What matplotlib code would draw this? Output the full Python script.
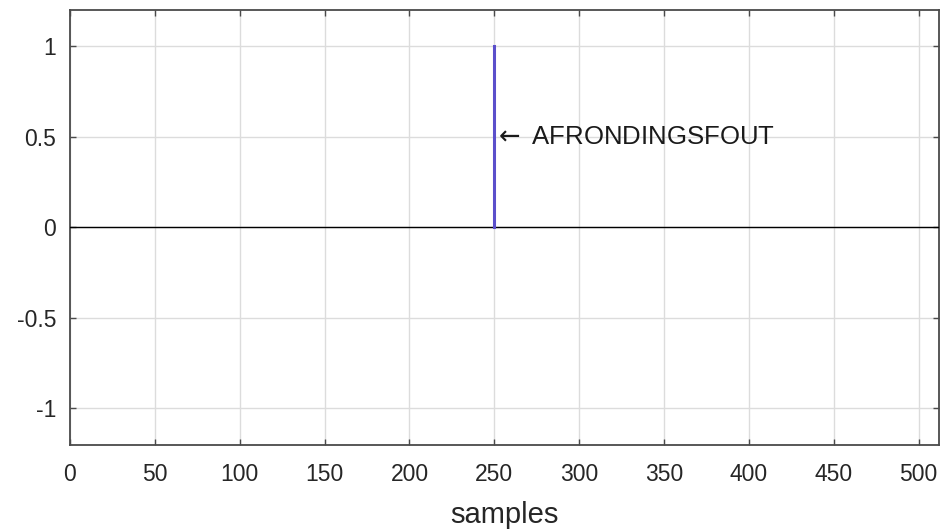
import numpy as np
import matplotlib.pyplot as plt

plt.rcParams['font.family'] = ['Liberation Sans', 'DejaVu Sans']
plt.rcParams['mathtext.fontset'] = 'dejavusans'

# Data
n_samples = 512
spike_pos = 250
spike_val = 1.0
baseline = [0.0, 0.0]
label_text = r"$\leftarrow$ AFRONDINGSFOUT"
label_y = 0.5

x_ticks = [0, 50, 100, 150, 200, 250, 300, 350, 400, 450, 500]
y_ticks = [-1, -0.5, 0, 0.5, 1]
y_ticklabels = ["-1", "-0.5", "0", "0.5", "1"]

fig = plt.figure(figsize=(9.43, 5.30), dpi=100)
ax = fig.add_axes([0.0742, 0.161, 0.9216, 0.820])

# zero line
ax.plot([0, n_samples], baseline, color="black", linewidth=1.0, zorder=3)

# spike
ax.plot([spike_pos, spike_pos], [0, spike_val], color="#5b4fcb", linewidth=2.2, zorder=4)

ax.text(spike_pos - 0.8, label_y, label_text, ha="left", va="center",
        fontsize=18.5, color="#1a1a1a")

ax.set_xlim(0, n_samples)
ax.set_ylim(-1.2, 1.2)
ax.set_xticks(x_ticks)
ax.set_yticks(y_ticks)
ax.set_yticklabels(y_ticklabels)

ax.grid(True, color="#dcdcdc", linewidth=1.0)
ax.set_axisbelow(True)

for s in ax.spines.values():
    s.set_color("#4a4a4a")
    s.set_linewidth(1.3)

ax.tick_params(direction="in", length=4, width=1.0, colors="#4a4a4a",
               top=True, right=True, labelsize=16.5)
ax.tick_params(axis="x", pad=13, labelcolor="#262626")
ax.tick_params(axis="y", pad=10, labelcolor="#262626")

ax.set_xlabel("samples", fontsize=21, color="#262626", labelpad=11)

plt.savefig("out.png", dpi=100)
